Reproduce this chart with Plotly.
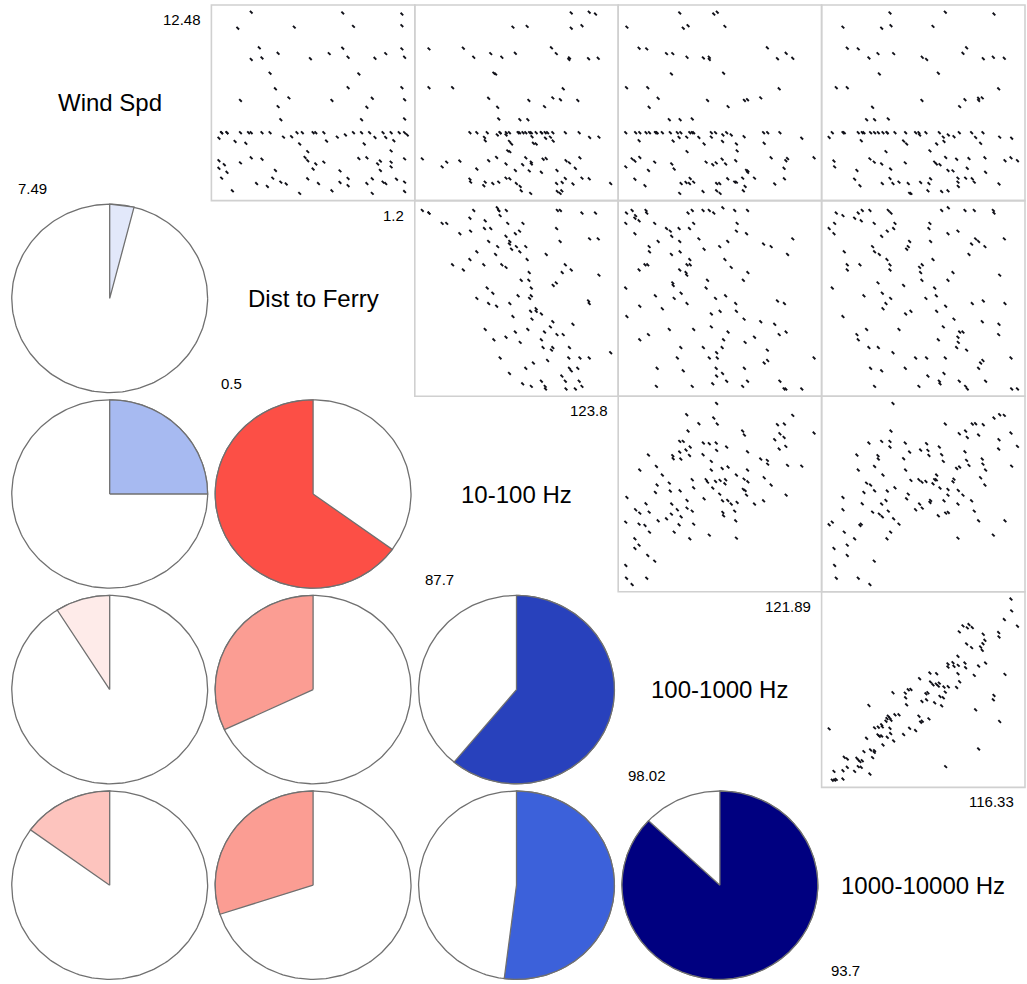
import math
import plotly.graph_objects as go
from plotly.subplots import make_subplots

# ---------------------------------------------------------------------------
# Variables shown on the diagonal, with their ranges
var_names = ["Wind Spd", "Dist to Ferry", "10-100 Hz", "100-1000 Hz", "1000-10000 Hz"]
var_min = [7.49, 0.5, 87.7, 98.02, 93.7]
var_max = [12.48, 1.2, 123.8, 121.89, 116.33]

# Pairwise correlations (lower triangle, row i against columns 0..i-1)
corr_lower = [
    [],
    [0.04],
    [0.25, -0.65],
    [-0.09, -0.32, 0.61],
    [-0.15, -0.30, 0.52, 0.87],
]

# ---------------------------------------------------------------------------
# Paired samples for neighbouring variables.
# a: 1000-10000 Hz vs 100-1000 Hz
a_hz1000_10000 = [115.55, 115.63, 114.75, 116.33, 109.78, 110.50, 110.30, 110.90, 109.34, 112.22,
                  114.07, 114.11, 110.22, 110.82, 112.42, 112.18, 111.90, 112.10, 109.18, 107.98,
                  107.98, 108.58, 108.70, 109.22, 110.02, 110.10, 111.66, 112.50, 114.83, 111.14,
                  109.18, 105.81, 106.62, 104.57, 105.89, 106.18, 106.58, 106.82, 106.94, 107.50,
                  108.02, 109.02, 109.38, 107.66, 107.02, 107.42, 105.33, 105.57, 104.85, 105.41,
                  106.38, 107.22, 101.37, 102.85, 103.21, 103.53, 102.89, 103.01, 98.48, 113.51,
                  113.43, 111.30, 114.19, 111.66, 107.70, 100.81, 101.01, 101.13, 100.65, 101.61,
                  102.09, 100.53, 100.01, 104.49, 104.89, 104.69, 105.69, 103.37, 104.09, 102.65,
                  101.01, 99.16, 99.61, 100.09, 99.57, 99.73, 100.01, 100.69, 101.09, 101.45,
                  100.17, 98.20, 98.68, 99.16, 99.12, 98.92, 97.88, 95.52, 95.88, 97.04,
                  97.20, 97.40, 97.68, 97.20, 97.56, 96.76, 95.88, 95.36, 94.28, 98.60,
                  94.08, 94.36, 94.56, 95.36, 93.70]
a_hz100_1000 = [121.89, 120.33, 119.19, 118.31, 118.35, 118.53, 118.09, 118.13, 117.56, 117.25,
                117.47, 116.90, 115.97, 115.49, 116.45, 116.01, 115.57, 115.13, 114.34, 113.33,
                112.93, 113.50, 113.02, 113.15, 113.46, 112.84, 113.06, 113.46, 111.96, 111.83,
                112.05, 112.14, 112.05, 111.39, 110.95, 110.59, 110.68, 110.42, 110.81, 110.29,
                110.33, 110.24, 110.99, 109.62, 109.05, 108.87, 109.40, 109.54, 108.39, 108.61,
                108.21, 107.82, 109.54, 109.49, 109.93, 109.98, 108.87, 107.95, 107.86, 109.18,
                108.61, 107.29, 105.75, 102.13, 99.80, 106.45, 106.19, 105.92, 106.14, 106.63,
                106.63, 105.79, 105.31, 106.45, 105.79, 105.66, 106.10, 104.86, 104.56, 104.03,
                104.86, 104.91, 105.00, 105.04, 103.98, 103.81, 103.85, 103.67, 104.16, 103.19,
                102.66, 103.54, 102.00, 101.91, 101.69, 100.99, 101.78, 101.03, 100.81, 100.90,
                100.68, 100.46, 100.59, 99.80, 99.71, 99.18, 99.71, 99.27, 99.18, 98.83,
                98.02, 98.03, 98.12, 98.17, 104.78]

# b: 100-1000 Hz vs 10-100 Hz
b_hz100_1000 = [110.32, 105.91, 109.64, 108.29, 110.32, 119.25, 117.43, 118.19, 121.88, 106.25,
                113.03, 113.41, 117.64, 117.98, 117.01, 117.60, 118.36, 105.11, 105.83, 108.71,
                109.34, 110.06, 111.55, 106.76, 104.98, 105.87, 106.59, 110.23, 113.58, 108.54,
                101.13, 104.05, 104.22, 105.19, 115.31, 116.03, 116.16, 118.62, 120.40, 109.60,
                102.10, 100.54, 109.60, 110.49, 112.01, 113.62, 112.90, 102.74, 107.86, 108.92,
                109.09, 109.89, 110.45, 111.16, 111.12, 113.11, 113.71, 115.74, 116.50, 103.67,
                102.10, 107.99, 109.60, 101.81, 103.84, 105.11, 110.36, 113.03, 113.45, 113.54,
                118.36, 99.01, 100.79, 104.01, 106.13, 108.84, 110.57, 111.88, 112.05, 112.99,
                114.43, 115.53, 99.65, 99.99, 101.17, 104.94, 106.17, 107.35, 103.97, 103.29,
                102.27, 105.79, 110.57, 110.78, 112.14, 98.02, 99.82, 100.75, 104.94, 107.99,
                112.14, 101.51, 104.69, 106.59, 109.34, 112.22, 99.35, 99.90, 99.35, 101.00,
                101.77, 98.02, 98.21, 100.96, 99.31]
b_hz10_100 = [123.80, 121.55, 120.89, 119.76, 119.69, 121.42, 119.56, 119.69, 117.90, 118.30,
              118.30, 117.50, 117.76, 117.03, 116.57, 114.71, 115.24, 116.24, 116.24, 115.90,
              115.77, 115.90, 115.11, 115.11, 114.11, 114.51, 113.44, 114.44, 114.17, 113.58,
              113.51, 113.38, 112.78, 112.71, 112.71, 112.45, 111.71, 111.45, 111.31, 112.25,
              111.25, 110.52, 110.52, 110.85, 111.12, 110.52, 109.52, 109.52, 108.59, 108.59,
              108.12, 108.26, 108.46, 108.59, 107.79, 108.72, 108.19, 108.99, 107.53, 107.92,
              107.53, 106.99, 106.93, 106.06, 106.33, 106.39, 105.73, 106.66, 106.46, 105.53,
              105.53, 105.07, 103.80, 103.74, 104.47, 104.80, 104.40, 104.47, 103.74, 104.07,
              103.74, 104.40, 102.61, 101.94, 102.14, 102.61, 102.94, 102.34, 101.74, 100.81,
              100.41, 101.21, 102.07, 101.41, 102.34, 100.14, 99.75, 99.48, 99.61, 99.75,
              100.41, 98.15, 98.15, 96.82, 97.55, 96.95, 96.82, 95.56, 94.89, 93.50,
              92.37, 91.50, 88.97, 88.97, 87.70]

# c: 10-100 Hz vs Dist to Ferry
c_hz10_100 = [87.70, 88.88, 91.19, 97.72, 101.56, 102.01, 102.20, 102.33, 103.61, 113.40,
              113.34, 118.20, 120.83, 96.82, 99.70, 92.27, 93.23, 103.61, 106.29, 95.41,
              97.33, 99.38, 100.41, 102.84, 104.37, 105.27, 113.08, 100.28, 103.86, 103.67,
              101.88, 104.18, 104.69, 106.49, 105.33, 113.34, 119.55, 121.28, 98.04, 101.37,
              96.69, 106.87, 111.29, 99.32, 94.77, 96.63, 102.33, 102.45, 114.94, 116.03,
              113.98, 121.34, 107.83, 106.10, 107.64, 112.63, 112.57, 108.09, 99.83, 100.66,
              104.95, 107.96, 107.83, 97.97, 99.96, 101.37, 104.12, 118.20, 119.29, 109.30,
              107.83, 108.86, 110.33, 104.18, 108.41, 112.38, 111.54, 116.03, 99.57, 107.38,
              104.25, 102.33, 101.17, 110.84, 113.27, 114.36, 105.53, 110.46, 112.51, 112.19,
              110.52, 115.83, 123.80, 102.20, 111.29, 115.13, 117.63, 119.48, 106.81, 108.60,
              115.64, 115.96, 116.92, 103.67, 113.59, 114.36, 117.37, 106.10, 108.09, 109.30,
              111.16, 111.16, 115.00, 116.41, 117.75]
c_dist = [1.19, 1.18, 1.18, 1.19, 1.20, 1.19, 1.19, 1.17, 1.19, 1.19,
          1.19, 1.18, 1.18, 1.16, 1.15, 1.14, 1.14, 1.14, 1.14, 1.10,
          1.11, 1.12, 1.12, 1.09, 1.10, 1.11, 1.12, 1.07, 1.07, 1.06,
          1.05, 1.04, 1.05, 1.05, 1.03, 1.07, 1.08, 1.08, 1.03, 1.02,
          1.00, 1.00, 1.02, 0.98, 0.98, 0.96, 0.98, 0.97, 0.98, 0.96,
          0.95, 0.94, 0.95, 0.92, 0.92, 0.91, 0.90, 0.89, 0.89, 0.87,
          0.86, 0.86, 0.85, 0.85, 0.83, 0.82, 0.83, 0.84, 0.83, 0.81,
          0.80, 0.80, 0.79, 0.78, 0.77, 0.76, 0.74, 0.75, 0.73, 0.73,
          0.72, 0.70, 0.69, 0.72, 0.71, 0.71, 0.68, 0.69, 0.66, 0.65,
          0.66, 0.66, 0.64, 0.62, 0.61, 0.62, 0.62, 0.62, 0.58, 0.60,
          0.58, 0.57, 0.58, 0.56, 0.55, 0.53, 0.53, 0.52, 0.51, 0.53,
          0.51, 0.50, 0.50, 0.50, 0.51]

# d: Dist to Ferry vs Wind Spd
d_dist = [0.62, 0.94, 1.18, 0.57, 0.75, 0.98, 1.18, 0.63, 0.62, 0.66,
          0.71, 0.83, 0.89, 0.94, 0.96, 1.07, 1.11, 1.18, 1.19, 0.67,
          1.00, 0.70, 0.74, 0.57, 0.71, 0.91, 0.97, 1.06, 1.04, 1.18,
          1.18, 0.72, 1.00, 1.19, 0.51, 0.52, 0.53, 0.54, 0.58, 0.60,
          0.62, 0.66, 0.68, 0.72, 0.74, 0.75, 0.78, 0.83, 0.85, 0.88,
          0.91, 0.94, 0.98, 1.01, 1.05, 1.10, 1.13, 1.17, 1.19, 1.20,
          0.50, 0.56, 0.59, 0.77, 0.88, 1.07, 1.12, 1.15, 1.01, 0.81,
          1.12, 0.60, 0.64, 0.57, 0.79, 0.80, 0.87, 0.84, 0.98, 1.02,
          1.07, 1.09, 1.14, 1.14, 1.19, 0.50, 0.52, 0.50, 0.53, 0.70,
          0.83, 0.91, 1.07, 0.50, 0.62, 0.66, 0.69, 0.71, 0.72, 0.79,
          0.85, 0.91, 0.95, 0.97, 1.03, 1.05, 1.09, 1.10, 1.16, 1.18,
          0.54, 0.77, 0.89, 1.06, 1.18]
d_wind = [12.48, 12.46, 12.43, 12.04, 12.07, 12.09, 12.11, 11.50, 11.18, 11.22,
          11.35, 11.20, 11.34, 11.49, 11.24, 11.21, 11.34, 11.47, 11.24, 10.80,
          10.78, 10.37, 10.12, 10.05, 9.88, 10.05, 10.40, 10.11, 9.86, 10.40,
          10.07, 9.52, 9.52, 9.54, 9.16, 9.16, 9.16, 9.16, 9.16, 9.16,
          9.16, 9.16, 9.16, 9.04, 9.05, 9.16, 9.16, 9.16, 9.16, 9.16,
          9.04, 9.10, 9.16, 9.16, 9.16, 9.16, 9.16, 9.16, 9.16, 9.10,
          9.01, 8.92, 8.87, 8.85, 8.93, 9.03, 9.03, 8.94, 8.85, 8.64,
          8.66, 8.47, 8.43, 8.33, 8.48, 8.39, 8.35, 8.30, 8.45, 8.47,
          8.30, 8.38, 8.35, 8.22, 8.44, 8.39, 8.28, 8.18, 8.07, 8.12,
          8.16, 8.11, 8.12, 7.91, 7.76, 7.68, 7.91, 7.80, 7.75, 7.89,
          7.76, 7.79, 7.90, 7.70, 7.76, 7.89, 7.80, 7.76, 7.88, 7.80,
          7.56, 7.49, 7.56, 7.49, 7.54]


def rank_order(vals):
    return sorted(range(len(vals)), key=lambda k: vals[k])


def attach(base_key, pair_key, pair_other):
    """Match each record to the pair sample of the same rank on the shared variable."""
    out = [None] * len(base_key)
    for i_base, i_pair in zip(rank_order(base_key), rank_order(pair_key)):
        out[i_base] = pair_other[i_pair]
    return out


hz1000_10000 = list(a_hz1000_10000)
hz100_1000 = list(a_hz100_1000)
hz10_100 = attach(hz100_1000, b_hz100_1000, b_hz10_100)
dist = attach(hz10_100, c_hz10_100, c_dist)
wind = attach(dist, d_dist, d_wind)
columns = [wind, dist, hz10_100, hz100_1000, hz1000_10000]

# ---------------------------------------------------------------------------
# Colour ramp: red - salmon - white - royalblue - navy, 14 bins over [-1, 1]
ramp_stops = [(255, 0, 0), (250, 128, 114), (255, 255, 255), (65, 105, 225), (0, 0, 128)]


def ramp(t):
    seg = min(int(t * 4), 3)
    f = t * 4 - seg
    a, b = ramp_stops[seg], ramp_stops[seg + 1]
    return "rgb(%d,%d,%d)" % tuple(round(a[k] + (b[k] - a[k]) * f) for k in range(3))


def pie_color(r, n=14):
    idx = min(int((r + 1) / 2 * n), n - 1)
    return ramp(idx / (n - 1))


N = len(var_names)
FONT = "Liberation Sans, Arial, sans-serif"
PIE_R = 0.963
EDGE = "#707070"

fig = make_subplots(rows=N, cols=N, horizontal_spacing=0, vertical_spacing=0)


def axis_num(i, j):
    n = i * N + j + 1
    return "" if n == 1 else str(n)


def cell_domain(i, j):
    n = axis_num(i, j)
    return fig.layout["xaxis" + n].domain, fig.layout["yaxis" + n].domain


shapes = []
annotations = []

for i in range(N):
    for j in range(N):
        aid = axis_num(i, j)
        if j > i:
            # scatter panel: x = column j, y = row i
            xr = [var_min[j] - 0.04 * (var_max[j] - var_min[j]), var_max[j] + 0.04 * (var_max[j] - var_min[j])]
            yr = [var_min[i] - 0.04 * (var_max[i] - var_min[i]), var_max[i] + 0.04 * (var_max[i] - var_min[i])]
            fig.add_trace(go.Scatter(
                x=columns[j], y=columns[i], mode="markers",
                marker=dict(symbol="line-nw", size=2.6, color="#111111",
                            line=dict(width=1.9, color="#101018")),
                hoverinfo="skip", showlegend=False), row=i + 1, col=j + 1)
            fig.update_xaxes(range=xr, row=i + 1, col=j + 1)
            fig.update_yaxes(range=yr, row=i + 1, col=j + 1)
            shapes.append(dict(type="rect", xref=f"x{aid} domain", yref=f"y{aid} domain",
                               x0=0, x1=1, y0=0, y1=1, line=dict(color="#D0D0D0", width=1.6),
                               layer="above"))
        elif j < i:
            r = corr_lower[i][j]
            # full disc
            m = 240
            cx = [PIE_R * math.cos(2 * math.pi * k / m) for k in range(m + 1)]
            cy = [PIE_R * math.sin(2 * math.pi * k / m) for k in range(m + 1)]
            fig.add_trace(go.Scatter(x=cx, y=cy, mode="lines", fill="toself", fillcolor="white",
                                     line=dict(color=EDGE, width=1.3), hoverinfo="skip",
                                     showlegend=False), row=i + 1, col=j + 1)
            # wedge proportional to |r|, clockwise for positive, counter-clockwise for negative
            seg = max(round(60 * abs(r)), 2)
            a0 = math.pi / 2
            a1 = math.pi / 2 - 2 * math.pi * r
            wx, wy = [0.0], [0.0]
            for k in range(seg):
                a = a0 + (a1 - a0) * k / (seg - 1)
                wx.append(PIE_R * math.cos(a))
                wy.append(PIE_R * math.sin(a))
            wx.append(0.0)
            wy.append(0.0)
            fig.add_trace(go.Scatter(x=wx, y=wy, mode="lines", fill="toself", fillcolor=pie_color(r),
                                     line=dict(color=EDGE, width=1.3), hoverinfo="skip",
                                     showlegend=False), row=i + 1, col=j + 1)
            fig.update_xaxes(range=[-1, 1], row=i + 1, col=j + 1)
            fig.update_yaxes(range=[-1, 1], row=i + 1, col=j + 1)
        else:
            fig.update_xaxes(range=[0, 1], row=i + 1, col=j + 1)
            fig.update_yaxes(range=[0, 1], row=i + 1, col=j + 1)
            (dx0, dx1), (dy0, dy1) = cell_domain(i, j)

            def px(f):
                return dx0 + f * (dx1 - dx0)

            def py(f):
                return dy0 + f * (dy1 - dy0)

            annotations.append(dict(text=var_names[i], x=px(0.5), y=py(0.5), xref="paper", yref="paper",
                                    xanchor="center", yanchor="middle", showarrow=False,
                                    font=dict(family=FONT, size=24, color="black")))
            annotations.append(dict(text=f"{var_min[i]:g}", x=px(0.038), y=py(0.063),
                                    xref="paper", yref="paper",
                                    xanchor="left", yanchor="middle", showarrow=False,
                                    font=dict(family=FONT, size=15, color="black")))
            annotations.append(dict(text=f"{var_max[i]:g}", x=px(0.958), y=py(0.926),
                                    xref="paper", yref="paper",
                                    xanchor="right", yanchor="middle", showarrow=False,
                                    font=dict(family=FONT, size=15, color="black")))

fig.update_xaxes(visible=False, fixedrange=True)
fig.update_yaxes(visible=False, fixedrange=True)
fig.update_layout(
    width=1027, height=984,
    margin=dict(l=8, r=2, t=5, b=1),
    paper_bgcolor="white", plot_bgcolor="white",
    showlegend=False,
    shapes=shapes, annotations=annotations,
)

fig.write_html("out.html")
